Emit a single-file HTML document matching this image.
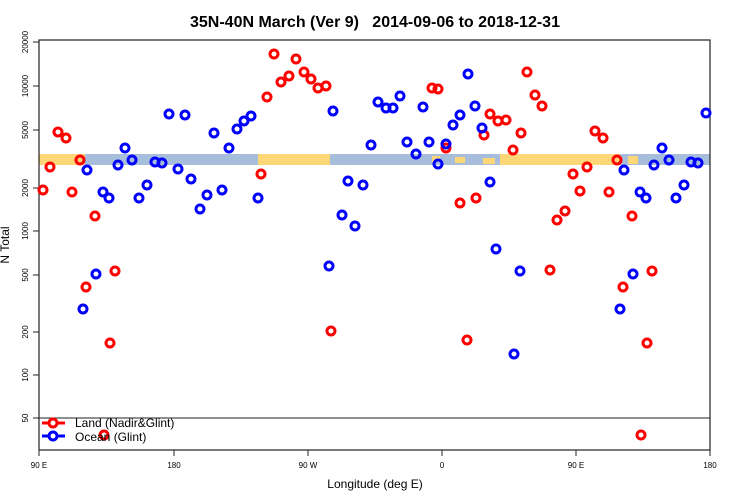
<!DOCTYPE html>
<html><head><style>body{margin:0;background:#fff}svg{display:block}</style></head><body>
<svg width="750" height="500" xmlns="http://www.w3.org/2000/svg" font-family="Liberation Sans, sans-serif">
<text x="375" y="27" text-anchor="middle" font-size="16" font-weight="bold">35N-40N March (Ver 9)&#160;&#160; 2014-09-06 to 2018-12-31</text>
<g>
<rect x="39" y="154" width="671" height="11" fill="#a7bddc"/>
<rect x="39" y="154" width="46" height="11" fill="#fdd777"/>
<rect x="258" y="154" width="72" height="11" fill="#fdd777"/>
<rect x="432" y="156" width="8" height="6" fill="#fdd777"/>
<rect x="455" y="157" width="10" height="6" fill="#fdd777"/>
<rect x="500" y="154" width="120" height="11" fill="#fdd777"/>
<rect x="483" y="158" width="12" height="6" fill="#fdd777"/>
<rect x="628" y="156" width="10" height="8" fill="#fdd777"/>
</g>
<rect x="39" y="40" width="671" height="410" fill="none" stroke="#222" stroke-width="1.2"/>
<line x1="39" y1="418" x2="710" y2="418" stroke="#222"/>
<g stroke="#222">
<line x1="33" y1="42" x2="39" y2="42"/><line x1="33" y1="86" x2="39" y2="86"/><line x1="33" y1="130" x2="39" y2="130"/><line x1="33" y1="188" x2="39" y2="188"/><line x1="33" y1="231" x2="39" y2="231"/><line x1="33" y1="275" x2="39" y2="275"/><line x1="33" y1="332" x2="39" y2="332"/><line x1="33" y1="375" x2="39" y2="375"/><line x1="33" y1="418" x2="39" y2="418"/>
<line x1="39" y1="450" x2="39" y2="456"/><line x1="174" y1="450" x2="174" y2="456"/><line x1="308" y1="450" x2="308" y2="456"/><line x1="442" y1="450" x2="442" y2="456"/><line x1="576" y1="450" x2="576" y2="456"/><line x1="710" y1="450" x2="710" y2="456"/>
</g>
<g font-size="8" text-anchor="middle">
<text transform="translate(28,42) rotate(-90)">20000</text>
<text transform="translate(28,86) rotate(-90)">10000</text>
<text transform="translate(28,130) rotate(-90)">5000</text>
<text transform="translate(28,188) rotate(-90)">2000</text>
<text transform="translate(28,231) rotate(-90)">1000</text>
<text transform="translate(28,275) rotate(-90)">500</text>
<text transform="translate(28,332) rotate(-90)">200</text>
<text transform="translate(28,375) rotate(-90)">100</text>
<text transform="translate(28,418) rotate(-90)">50</text>
<text x="39" y="468">90 E</text><text x="174" y="468">180</text><text x="308" y="468">90 W</text><text x="442" y="468">0</text><text x="576" y="468">90 E</text><text x="710" y="468">180</text>
</g>
<text x="375" y="488" text-anchor="middle" font-size="12">Longitude (deg E)</text>
<text transform="translate(9,245) rotate(-90)" text-anchor="middle" font-size="12">N Total</text>
<g fill="none" stroke="#f00" stroke-width="3">
<circle cx="43" cy="190" r="4"/><circle cx="50" cy="167" r="4"/><circle cx="58" cy="132" r="4"/><circle cx="66" cy="138" r="4"/><circle cx="72" cy="192" r="4"/><circle cx="80" cy="160" r="4"/><circle cx="86" cy="287" r="4"/><circle cx="95" cy="216" r="4"/><circle cx="110" cy="343" r="4"/><circle cx="115" cy="271" r="4"/><circle cx="104" cy="435" r="4"/><circle cx="261" cy="174" r="4"/><circle cx="267" cy="97" r="4"/><circle cx="274" cy="54" r="4"/><circle cx="281" cy="82" r="4"/><circle cx="289" cy="76" r="4"/><circle cx="296" cy="59" r="4"/><circle cx="304" cy="72" r="4"/><circle cx="311" cy="79" r="4"/><circle cx="318" cy="88" r="4"/><circle cx="326" cy="86" r="4"/><circle cx="331" cy="331" r="4"/><circle cx="432" cy="88" r="4"/><circle cx="438" cy="89" r="4"/><circle cx="446" cy="148" r="4"/><circle cx="460" cy="203" r="4"/><circle cx="467" cy="340" r="4"/><circle cx="476" cy="198" r="4"/><circle cx="484" cy="135" r="4"/><circle cx="490" cy="114" r="4"/><circle cx="498" cy="121" r="4"/><circle cx="506" cy="120" r="4"/><circle cx="513" cy="150" r="4"/><circle cx="521" cy="133" r="4"/><circle cx="527" cy="72" r="4"/><circle cx="535" cy="95" r="4"/><circle cx="542" cy="106" r="4"/><circle cx="550" cy="270" r="4"/><circle cx="557" cy="220" r="4"/><circle cx="565" cy="211" r="4"/><circle cx="573" cy="174" r="4"/><circle cx="580" cy="191" r="4"/><circle cx="587" cy="167" r="4"/><circle cx="595" cy="131" r="4"/><circle cx="603" cy="138" r="4"/><circle cx="609" cy="192" r="4"/><circle cx="617" cy="160" r="4"/><circle cx="623" cy="287" r="4"/><circle cx="632" cy="216" r="4"/><circle cx="641" cy="435" r="4"/><circle cx="647" cy="343" r="4"/><circle cx="652" cy="271" r="4"/>
</g>
<g fill="none" stroke="#00f" stroke-width="3">
<circle cx="83" cy="309" r="4"/><circle cx="87" cy="170" r="4"/><circle cx="96" cy="274" r="4"/><circle cx="103" cy="192" r="4"/><circle cx="109" cy="198" r="4"/><circle cx="118" cy="165" r="4"/><circle cx="125" cy="148" r="4"/><circle cx="132" cy="160" r="4"/><circle cx="139" cy="198" r="4"/><circle cx="147" cy="185" r="4"/><circle cx="155" cy="162" r="4"/><circle cx="162" cy="163" r="4"/><circle cx="169" cy="114" r="4"/><circle cx="178" cy="169" r="4"/><circle cx="185" cy="115" r="4"/><circle cx="191" cy="179" r="4"/><circle cx="200" cy="209" r="4"/><circle cx="207" cy="195" r="4"/><circle cx="214" cy="133" r="4"/><circle cx="222" cy="190" r="4"/><circle cx="229" cy="148" r="4"/><circle cx="237" cy="129" r="4"/><circle cx="244" cy="121" r="4"/><circle cx="251" cy="116" r="4"/><circle cx="258" cy="198" r="4"/><circle cx="329" cy="266" r="4"/><circle cx="333" cy="111" r="4"/><circle cx="342" cy="215" r="4"/><circle cx="348" cy="181" r="4"/><circle cx="355" cy="226" r="4"/><circle cx="363" cy="185" r="4"/><circle cx="371" cy="145" r="4"/><circle cx="378" cy="102" r="4"/><circle cx="386" cy="108" r="4"/><circle cx="393" cy="108" r="4"/><circle cx="400" cy="96" r="4"/><circle cx="407" cy="142" r="4"/><circle cx="416" cy="154" r="4"/><circle cx="423" cy="107" r="4"/><circle cx="429" cy="142" r="4"/><circle cx="438" cy="164" r="4"/><circle cx="446" cy="144" r="4"/><circle cx="453" cy="125" r="4"/><circle cx="460" cy="115" r="4"/><circle cx="468" cy="74" r="4"/><circle cx="475" cy="106" r="4"/><circle cx="482" cy="128" r="4"/><circle cx="490" cy="182" r="4"/><circle cx="496" cy="249" r="4"/><circle cx="514" cy="354" r="4"/><circle cx="520" cy="271" r="4"/><circle cx="620" cy="309" r="4"/><circle cx="624" cy="170" r="4"/><circle cx="633" cy="274" r="4"/><circle cx="640" cy="192" r="4"/><circle cx="646" cy="198" r="4"/><circle cx="654" cy="165" r="4"/><circle cx="662" cy="148" r="4"/><circle cx="669" cy="160" r="4"/><circle cx="676" cy="198" r="4"/><circle cx="684" cy="185" r="4"/><circle cx="691" cy="162" r="4"/><circle cx="698" cy="163" r="4"/><circle cx="706" cy="113" r="4"/>
</g>
<g stroke-width="3" fill="#fff">
<line x1="42" y1="423" x2="65" y2="423" stroke="#f00"/><circle cx="53" cy="423" r="4" stroke="#f00"/>
<line x1="42" y1="436" x2="65" y2="436" stroke="#00f"/><circle cx="53" cy="436" r="4" stroke="#00f"/>
</g>
<text x="75" y="427" font-size="12">Land (Nadir&amp;Glint)</text>
<text x="75" y="441" font-size="12">Ocean (Glint)</text>
</svg>
</body></html>
